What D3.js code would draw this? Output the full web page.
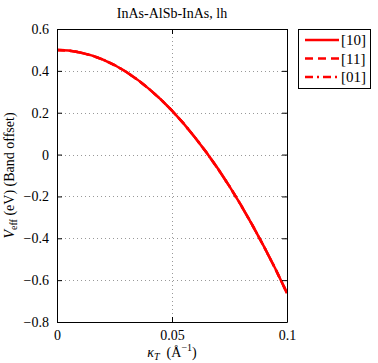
<!DOCTYPE html>
<html>
<head>
<meta charset="utf-8">
<script src="https://cdn.jsdelivr.net/npm/d3@7"></script>
<style>
  body { margin: 0; background: #fff; }
</style>
</head>
<body>
<svg id="chart" width="378" height="363"></svg>
<script>
// values
const kappa = [0, 0.005, 0.01, 0.015, 0.02, 0.025, 0.03, 0.035, 0.04, 0.045, 0.05,
  0.055, 0.06, 0.065, 0.07, 0.075, 0.08, 0.085, 0.09, 0.095, 0.1];
const vEff10 = [0.500, 0.497, 0.488, 0.474, 0.454, 0.428, 0.396, 0.358, 0.314, 0.265, 0.210,
  0.149, 0.082, 0.010, -0.068, -0.152, -0.242, -0.338, -0.440, -0.547, -0.662];
const vEff11 = vEff10.slice();
const vEff01 = vEff10.slice();
const seriesNames = ["[10]", "[11]", "[01]"];
const xTicks = [0, 0.05, 0.1];
const xTickLabels = ["0", "0.05", "0.1"];
const yTicks = [-0.8, -0.6, -0.4, -0.2, 0, 0.2, 0.4, 0.6];
const yTickLabels = ["\u22120.8", "\u22120.6", "\u22120.4", "\u22120.2", "0", "0.2", "0.4", "0.6"];

const FONT = "Liberation Serif";
const svg = d3.select("#chart");
const margin = { left: 57, right: 91, top: 29, bottom: 41 };
const width = +svg.attr("width");
const height = +svg.attr("height");
const x0 = margin.left, x1 = width - margin.right;
const y0 = height - margin.bottom, y1 = margin.top;

const x = d3.scaleLinear().domain([0, 0.1]).range([x0, x1]);
const y = d3.scaleLinear().domain([-0.8, 0.6]).range([y0, y1]);

// grid
const grid = svg.append("g").attr("stroke", "#999").attr("stroke-width", 1)
  .attr("stroke-dasharray", "1,3");
grid.selectAll(".gx").data(xTicks.slice(1, -1)).enter().append("line")
  .attr("x1", d => Math.round(x(d)) + 0.5).attr("x2", d => Math.round(x(d)) + 0.5)
  .attr("y1", y0).attr("y2", y1);
grid.selectAll(".gy").data(yTicks.slice(1, -1)).enter().append("line")
  .attr("y1", d => Math.round(y(d)) + 0.5).attr("y2", d => Math.round(y(d)) + 0.5)
  .attr("x1", x0).attr("x2", x1);

// series (the three overlap)
const line = d3.line().x((d, i) => x(kappa[i])).y(d => y(d));
const dashes = [null, "8,5", "8,4,2,4"];
[vEff10, vEff11, vEff01].forEach((vals, k) => {
  svg.append("path").datum(vals)
    .attr("fill", "none").attr("stroke", "#ff0000").attr("stroke-width", 2.5)
    .attr("stroke-dasharray", dashes[k])
    .attr("d", line);
});

// axes (ticks inside, mirrored)
const tickLen = 5;
const axB = svg.append("g").attr("transform", `translate(0,${y0})`)
  .call(d3.axisBottom(x).tickValues(xTicks).tickSizeInner(-tickLen).tickSizeOuter(0)
    .tickPadding(tickLen + 5).tickFormat((d, i) => xTickLabels[i]));
const axT = svg.append("g").attr("transform", `translate(0,${y1})`)
  .call(d3.axisTop(x).tickValues(xTicks).tickSizeInner(-tickLen).tickSizeOuter(0).tickFormat(""));
const axL = svg.append("g").attr("transform", `translate(${x0},0)`)
  .call(d3.axisLeft(y).tickValues(yTicks).tickSizeInner(-tickLen).tickSizeOuter(0)
    .tickPadding(tickLen + 3).tickFormat((d, i) => yTickLabels[i]));
const axR = svg.append("g").attr("transform", `translate(${x1},0)`)
  .call(d3.axisRight(y).tickValues(yTicks).tickSizeInner(-tickLen).tickSizeOuter(0).tickFormat(""));
[axB, axT, axL, axR].forEach(a => {
  a.attr("font-family", FONT).attr("font-size", 14);
  a.select(".domain").attr("stroke", "#000");
  a.selectAll("line").attr("stroke", "#000");
  a.selectAll("text").attr("fill", "#000");
});
axB.selectAll("text").attr("dy", "0.6em");

// title
svg.append("text").attr("x", (x0 + x1) / 2).attr("y", 18)
  .attr("text-anchor", "middle").attr("font-family", FONT).attr("font-size", 14)
  .text("InAs-AlSb-InAs, lh");

// x label
const xl = svg.append("text").attr("x", (x0 + x1) / 2).attr("y", 357)
  .attr("text-anchor", "middle").attr("font-family", FONT).attr("font-size", 14);
xl.append("tspan").attr("font-style", "italic").text("\u03ba");
xl.append("tspan").attr("font-style", "italic").attr("font-size", 10).attr("dy", 3).text("T");
xl.append("tspan").attr("dy", -3).text("\u00a0\u00a0(\u00c5");
xl.append("tspan").attr("font-size", 10).attr("dy", -6).text("\u22121");
xl.append("tspan").attr("dy", 6).text(")");

// y label
const yl = svg.append("text")
  .attr("transform", `translate(14,${(y0 + y1) / 2}) rotate(-90)`)
  .attr("text-anchor", "middle").attr("font-family", FONT).attr("font-size", 14);
yl.append("tspan").attr("font-style", "italic").text("V");
yl.append("tspan").attr("font-size", 10).attr("dy", 3).text("eff");
yl.append("tspan").attr("dy", -3).text("\u00a0(eV) (Band offset)");

// legend
const lg = svg.append("g");
lg.append("rect").attr("x", 298.5).attr("y", 29.5).attr("width", 72).attr("height", 59)
  .attr("fill", "#fff").attr("stroke", "#000");
seriesNames.forEach((name, k) => {
  const ly = 40 + k * 18.5;
  lg.append("line").attr("x1", 305).attr("x2", 339).attr("y1", ly).attr("y2", ly)
    .attr("stroke", "#ff0000").attr("stroke-width", 2.5).attr("stroke-dasharray", dashes[k]);
  lg.append("text").attr("x", 341).attr("y", ly).attr("dy", "0.35em")
    .attr("font-family", FONT).attr("font-size", 15).text(name);
});
</script>
</body>
</html>
